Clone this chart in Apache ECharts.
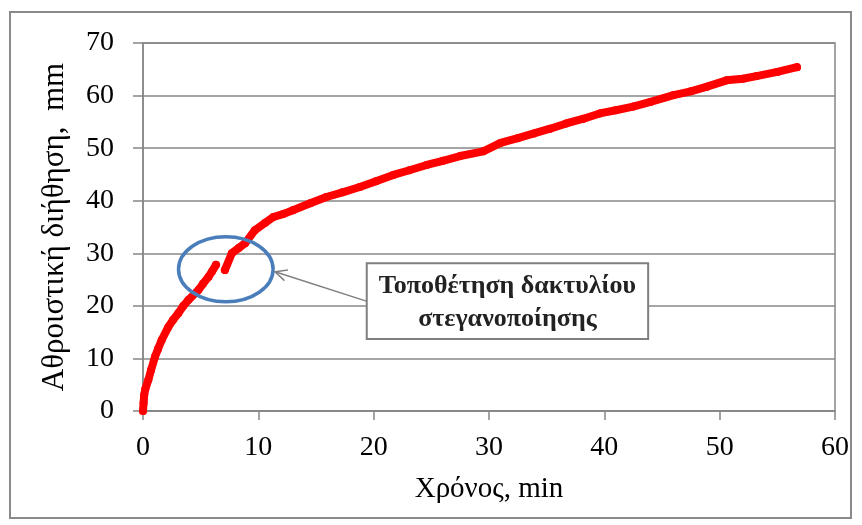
<!DOCTYPE html>
<html>
<head>
<meta charset="utf-8">
<script src="https://cdn.jsdelivr.net/npm/echarts@6/dist/echarts.min.js"></script>
<style>
  html, body { margin: 0; padding: 0; background: #fff; }
  #chart { width: 862px; height: 525px; }
</style>
</head>
<body>
<div id="chart"></div>
<script>
// Cumulative infiltration over time (null marks the break when the sealing ring was fitted)
const timeMin = [0, 0.05, 0.1, 0.2, 0.46, 0.7, 1.04, 1.3, 1.62, 2.2, 2.6, 3.06, 3.5, 3.93, 4.8, 5.2, 5.67, 6.0, 6.33,
  null,
  7.1, 7.7, 8.3, 8.85, 9.7, 10.6, 11.3, 12.2, 13.0, 14.5, 15.9, 17.3, 18.8, 20.2, 21.7, 23.1, 24.6, 26.0, 27.5,
  29.5, 31.0, 32.5, 33.9, 35.3, 36.7, 38.2, 39.6, 41.0, 42.5, 44.0, 46.0, 47.5, 48.9, 50.6, 52.0, 53.2, 55.0, 56.7];
const infiltration = [0, 1.5, 3, 4.2, 5.9, 7.8, 10.3, 11.8, 13.5, 16, 17.3, 18.6, 20.0, 21.1, 23, 24.2, 25.5, 26.6, 27.8,
  null,
  26.8, 30, 31.0, 31.9, 34.4, 35.8, 36.9, 37.5, 38.2, 39.5, 40.7, 41.6, 42.6, 43.7, 44.9, 45.8, 46.8, 47.6, 48.5,
  49.4, 51.0, 51.9, 52.8, 53.7, 54.7, 55.6, 56.6, 57.2, 57.9, 58.8, 60.1, 60.8, 61.7, 62.9, 63.2, 63.7, 64.5, 65.4];

const xTicks = { min: 0, max: 60, interval: 10 };
const yTicks = { min: 0, max: 70, interval: 10 };

const xTitle = 'Χρόνος, min';
const yTitle = 'Αθροιστική διήθηση,  mm';
const noteLines = ['Τοποθέτηση δακτυλίου', 'στεγανοποίησης'];

// Annotation geometry in data units
const ringCenter = [7.18, 26.96];
const ringRadius = [4.1, 6.2];
const arrowHead = [11.45, 26.5];
const arrowTail = [19.5, 20.8];
const noteBox = { t0: 19.4, t1: 43.8, v0: 28.1, v1: 13.7 };

const points = timeMin.map((t, i) => (t === null ? [null, null] : [t, infiltration[i]]));

const serif = '"Liberation Serif", "DejaVu Serif", serif';
const gridGray = '#878787';

const chart = echarts.init(document.getElementById('chart'), null, { renderer: 'canvas' });

chart.setOption({
  animation: false,
  backgroundColor: '#ffffff',
  grid: {
    left: 143, right: 27, top: 43, bottom: 114,
    show: true, borderColor: gridGray, borderWidth: 1.5, backgroundColor: 'transparent'
  },
  xAxis: {
    type: 'value',
    min: xTicks.min, max: xTicks.max, interval: xTicks.interval,
    name: xTitle, nameLocation: 'middle', nameGap: 64,
    nameTextStyle: { fontFamily: serif, fontSize: 29, color: '#000' },
    axisLine: { show: true, onZero: false, lineStyle: { color: gridGray, width: 1.5 } },
    axisTick: { show: true, length: 9, lineStyle: { color: gridGray, width: 1.5 } },
    axisLabel: { fontFamily: serif, fontSize: 28, color: '#000', margin: 23 },
    splitLine: { show: false }
  },
  yAxis: {
    type: 'value',
    min: yTicks.min, max: yTicks.max, interval: yTicks.interval,
    name: yTitle, nameLocation: 'middle', nameGap: 73,
    nameTextStyle: { fontFamily: serif, fontSize: 31, color: '#000' },
    axisLine: { show: true, lineStyle: { color: gridGray, width: 1.5 } },
    axisTick: { show: true, length: 10, lineStyle: { color: gridGray, width: 1.5 } },
    axisLabel: { fontFamily: serif, fontSize: 28, color: '#000', margin: 29 },
    splitLine: { show: true, lineStyle: { color: gridGray, width: 1.5 } }
  },
  series: [{
    type: 'line',
    data: points,
    connectNulls: false,
    showAllSymbol: true,
    symbol: 'circle',
    symbolSize: 8,
    itemStyle: { color: '#ff0000' },
    lineStyle: { color: '#ff0000', width: 8, cap: 'round', join: 'round' },
    z: 3
  }]
});

function px(p) { return chart.convertToPixel({ gridIndex: 0 }, p); }

function drawNotes() {
  const c = px(ringCenter);
  const edge = px([ringCenter[0] + ringRadius[0], ringCenter[1] + ringRadius[1]]);
  const rx = edge[0] - c[0];
  const ry = c[1] - edge[1];
  const head = px(arrowHead);
  const tail = px(arrowTail);
  const b0 = px([noteBox.t0, noteBox.v0]);
  const b1 = px([noteBox.t1, noteBox.v1]);

  // open arrowhead wings
  const ang = Math.atan2(tail[1] - head[1], tail[0] - head[0]);
  const wing = 13, spread = 0.45;
  const w1 = [head[0] + wing * Math.cos(ang + spread), head[1] + wing * Math.sin(ang + spread)];
  const w2 = [head[0] + wing * Math.cos(ang - spread), head[1] + wing * Math.sin(ang - spread)];

  const boxW = b1[0] - b0[0], boxH = b1[1] - b0[1];
  const mid = b0[0] + boxW / 2;

  chart.setOption({
    graphic: [
      {
        type: 'rect', silent: true, z: 0,
        shape: { x: 10, y: 12, width: 841, height: 506 },
        style: { fill: 'none', stroke: '#8a8a8a', lineWidth: 2 }
      },
      {
        type: 'ellipse', silent: true, z: 10,
        shape: { cx: c[0], cy: c[1], rx: rx, ry: ry },
        style: { fill: 'none', stroke: '#4a7ebb', lineWidth: 3.5 }
      },
      {
        type: 'polyline', silent: true, z: 10,
        shape: { points: [tail, head] },
        style: { stroke: '#7f7f7f', lineWidth: 1.5, fill: 'none' }
      },
      {
        type: 'polyline', silent: true, z: 10,
        shape: { points: [w1, head, w2] },
        style: { stroke: '#7f7f7f', lineWidth: 1.5, fill: 'none' }
      },
      {
        type: 'rect', silent: true, z: 10,
        shape: { x: b0[0], y: b0[1], width: boxW, height: boxH },
        style: { fill: '#ffffff', stroke: '#7f7f7f', lineWidth: 2 }
      },
      {
        type: 'text', silent: true, z: 11,
        style: {
          text: noteLines[0], x: mid, y: b0[1] + boxH * 0.31,
          align: 'center', verticalAlign: 'middle',
          font: 'bold 26px ' + serif, fill: '#222'
        }
      },
      {
        type: 'text', silent: true, z: 11,
        style: {
          text: noteLines[1], x: mid, y: b0[1] + boxH * 0.74,
          align: 'center', verticalAlign: 'middle',
          font: 'bold 26px ' + serif, fill: '#222'
        }
      }
    ]
  });
}
drawNotes();
</script>
</body>
</html>
